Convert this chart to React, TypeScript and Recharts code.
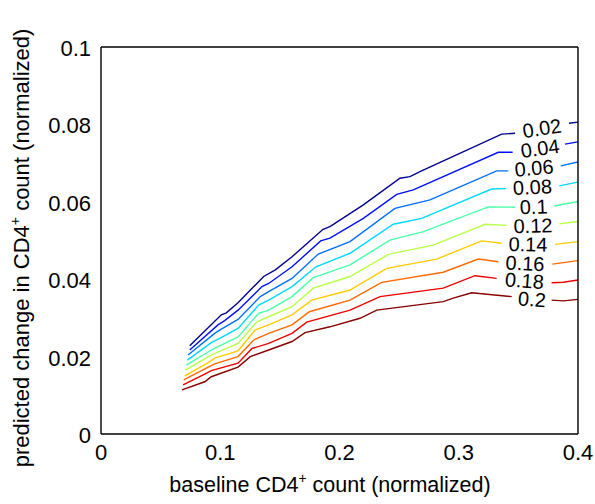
import React from 'react';
import { ComposedChart, Line, XAxis, YAxis, Scatter } from 'recharts';

const FONT = '"Liberation Sans", Arial, Helvetica, sans-serif';

const xTicks = [0, 0.1, 0.2, 0.3, 0.4];
const xTickLabels = ['0', '0.1', '0.2', '0.3', '0.4'];
const yTicks = [0, 0.02, 0.04, 0.06, 0.08, 0.1];
const yTickLabels = ['0', '0.02', '0.04', '0.06', '0.08', '0.1'];

const levels = ['0.02', '0.04', '0.06', '0.08', '0.1', '0.12', '0.14', '0.16', '0.18', '0.2'];

type P = [number, number | null];

const c002: P[] = [[0.0744,0.0228],[0.1009,0.0308],[0.1051,0.0313],[0.1149,0.0339],[0.1364,0.0407],[0.1462,0.0424],[0.1602,0.0458],[0.1862,0.0529],[0.1920,0.0536],[0.2200,0.0592],[0.2507,0.0661],[0.2591,0.0665],[0.2675,0.0678],[0.3360,0.0775],[0.3472,0.0777],[0.37,null],[0.3925,0.0803],[0.4,0.0806]];
const c004: P[] = [[0.0744,0.0217],[0.0981,0.0282],[0.1037,0.0293],[0.1149,0.0320],[0.1350,0.0381],[0.1406,0.0389],[0.1602,0.0432],[0.1842,0.0499],[0.1920,0.0506],[0.2200,0.0557],[0.2480,0.0619],[0.2619,0.0631],[0.3332,0.0728],[0.3452,0.0728],[0.367,null],[0.3891,0.0749],[0.4,0.0755]];
const c006: P[] = [[0.0730,0.0204],[0.0953,0.0260],[0.1009,0.0271],[0.1149,0.0296],[0.1336,0.0355],[0.1406,0.0368],[0.1602,0.0402],[0.1822,0.0465],[0.2088,0.0497],[0.2465,0.0583],[0.2759,0.0605],[0.3318,0.0680],[0.3415,0.0680],[0.363,null],[0.3855,0.0693],[0.4,0.0703]];
const c008: P[] = [[0.0724,0.0191],[0.0925,0.0236],[0.0995,0.0247],[0.1149,0.0273],[0.1322,0.0333],[0.1406,0.0346],[0.1602,0.0381],[0.1803,0.0432],[0.2088,0.0467],[0.2451,0.0542],[0.2689,0.0557],[0.3276,0.0633],[0.3396,0.0634],[0.362,null],[0.3843,0.0641],[0.4,0.0651]];
const c010: P[] = [[0.0715,0.0178],[0.0925,0.0217],[0.0981,0.0226],[0.1149,0.0251],[0.1322,0.0312],[0.1406,0.0320],[0.1602,0.0355],[0.1780,0.0404],[0.2088,0.0437],[0.2423,0.0501],[0.2703,0.0523],[0.3248,0.0587],[0.3472,0.0586],[0.363,null],[0.3799,0.0589],[0.4,0.0601]];
const c012: P[] = [[0.0707,0.0165],[0.0912,0.0202],[0.0967,0.0210],[0.1149,0.0234],[0.1308,0.0290],[0.1406,0.0303],[0.1602,0.0329],[0.1780,0.0377],[0.2088,0.0407],[0.2409,0.0464],[0.2787,0.0488],[0.3220,0.0542],[0.3402,0.0539],[0.362,null],[0.3843,0.0543],[0.4,0.0549]];
const c014: P[] = [[0.0702,0.0150],[0.0897,0.0184],[0.0953,0.0196],[0.1149,0.0215],[0.1294,0.0269],[0.1406,0.0282],[0.1602,0.0308],[0.1767,0.0346],[0.2088,0.0372],[0.2396,0.0428],[0.2815,0.0452],[0.3192,0.0499],[0.3360,0.0493],[0.358,null],[0.3807,0.0490],[0.4,0.0497]];
const c016: P[] = [[0.0694,0.0140],[0.0883,0.0170],[0.0953,0.0181],[0.1149,0.0200],[0.1281,0.0243],[0.1406,0.0260],[0.1602,0.0282],[0.1747,0.0316],[0.2088,0.0346],[0.2354,0.0392],[0.2870,0.0418],[0.3164,0.0452],[0.3332,0.0445],[0.356,null],[0.3785,0.0439],[0.4,0.0448]];
const c018: P[] = [[0.0688,0.0127],[0.0870,0.0155],[0.0925,0.0164],[0.1149,0.0183],[0.1266,0.0221],[0.1406,0.0234],[0.1602,0.0260],[0.1725,0.0289],[0.2088,0.0320],[0.2340,0.0355],[0.2870,0.0377],[0.3136,0.0409],[0.3318,0.0402],[0.355,null],[0.3779,0.0391],[0.3877,0.0392],[0.4,0.0398]];
const c020: P[] = [[0.0679,0.0114],[0.0870,0.0135],[0.0925,0.0148],[0.1149,0.0173],[0.1252,0.0200],[0.1406,0.0217],[0.1602,0.0239],[0.1711,0.0262],[0.1920,0.0277],[0.2172,0.0299],[0.2312,0.0320],[0.2870,0.0342],[0.2954,0.0351],[0.3109,0.0365],[0.3444,0.0355],[0.361,null],[0.3779,0.0346],[0.3877,0.0344],[0.4,0.0348]];

const contours = [c002, c004, c006, c008, c010, c012, c014, c016, c018, c020];

const labelX = [0.3698, 0.3681, 0.3631, 0.3618, 0.3628, 0.3623, 0.3581, 0.3556, 0.3551, 0.3614];
const labelY = [0.0790, 0.0738, 0.0687, 0.0638, 0.0587, 0.0538, 0.0490, 0.0441, 0.0396, 0.0348];

// styles
const colors = ['#000090', '#0010ff', '#0070ff', '#00d8ff', '#48ffa8', '#b8ff48', '#ffcc00', '#ff6a00', '#ee0000', '#880000'];
const labelRotation = [-9, -8, -5, -3, -2, -1.5, 1, 2.4, 4.5, 4.5];

const series = contours.map((pts, i) => ({
  name: levels[i],
  data: pts.map(([x, y]) => ({ x, y })),
}));

const labelData = levels.map((t, i) => ({ x: labelX[i], y: labelY[i], text: t, rot: labelRotation[i] }));

const XTick = (props: any) => {
  const { x, y, payload } = props;
  const idx = xTicks.indexOf(payload.value);
  return (
    <text x={x} y={y} textAnchor="middle" dominantBaseline="central" fontSize={22} fontFamily={FONT} fill="#000">
      {xTickLabels[idx]}
    </text>
  );
};

const YTick = (props: any) => {
  const { x, y, payload } = props;
  let idx = 0;
  yTicks.forEach((t, i) => { if (Math.abs(t - payload.value) < 1e-9) idx = i; });
  return (
    <text x={x} y={y} dy={1.5} textAnchor="end" dominantBaseline="central" fontSize={22} fontFamily={FONT} fill="#000">
      {yTickLabels[idx]}
    </text>
  );
};

const XTitle = () => (
  <text x={330} y={492} textAnchor="middle" fontSize={21.5} fontFamily={FONT} fill="#000">
    baseline CD4<tspan fontSize={14} dy={-9}>+</tspan><tspan dy={9}> count (normalized)</tspan>
  </text>
);

const YTitle = () => (
  <text x={29} y={248} transform="rotate(-90 29 248)" textAnchor="middle" fontSize={22} fontFamily={FONT} fill="#000">
    predicted change in CD4<tspan fontSize={14} dy={-9}>+</tspan><tspan dy={9}> count (normalized)</tspan>
  </text>
);

const LabelShape = (props: any) => {
  const { cx, cy, payload } = props;
  return (
    <text
      x={cx}
      y={cy}
      transform={`rotate(${payload.rot} ${cx} ${cy})`}
      textAnchor="middle"
      dominantBaseline="central"
      fontSize={20}
      fontFamily={FONT}
      fill="#000"
    >
      {payload.text}
    </text>
  );
};

export default function App() {
  return (
    <div style={{ position: 'absolute', left: 0, top: 0, width: 595, height: 504, background: '#fff' }}>
      <ComposedChart width={595} height={504} margin={{ top: 47, right: 17, left: 0, bottom: 0 }}>
        <XAxis
          xAxisId="main"
          dataKey="x"
          type="number"
          domain={[0, 0.4]}
          allowDataOverflow
          ticks={xTicks}
          tick={<XTick />}
          tickLine={false}
          tickSize={0}
          tickMargin={18}
          height={70}
          axisLine={{ stroke: '#000', strokeWidth: 1.4 }}
          label={<XTitle />}
        />
        <XAxis
          xAxisId="inB"
          orientation="bottom"
          mirror
          type="number"
          domain={[0, 0.4]}
          allowDataOverflow
          ticks={xTicks}
          tick={false}
          tickSize={5}
          axisLine={false}
          tickLine={{ stroke: '#000', strokeWidth: 1 }}
        />
        <XAxis
          xAxisId="inT"
          orientation="top"
          mirror
          type="number"
          domain={[0, 0.4]}
          allowDataOverflow
          ticks={xTicks}
          tick={false}
          tickSize={5}
          axisLine={{ stroke: '#000', strokeWidth: 1.4 }}
          tickLine={{ stroke: '#000', strokeWidth: 1 }}
        />
        <YAxis
          yAxisId="main"
          type="number"
          domain={[0, 0.1]}
          allowDataOverflow
          ticks={yTicks}
          tick={<YTick />}
          tickLine={false}
          tickSize={0}
          tickMargin={10}
          width={101}
          axisLine={{ stroke: '#000', strokeWidth: 1.4 }}
          label={<YTitle />}
        />
        <YAxis
          yAxisId="inL"
          orientation="left"
          mirror
          type="number"
          domain={[0, 0.1]}
          allowDataOverflow
          ticks={yTicks}
          tick={false}
          tickSize={5}
          axisLine={false}
          tickLine={{ stroke: '#000', strokeWidth: 1 }}
        />
        <YAxis
          yAxisId="inR"
          orientation="right"
          mirror
          type="number"
          domain={[0, 0.1]}
          allowDataOverflow
          ticks={yTicks}
          tick={false}
          tickSize={5}
          axisLine={{ stroke: '#000', strokeWidth: 1.4 }}
          tickLine={{ stroke: '#000', strokeWidth: 1 }}
        />
        {series.map((s, i) => (
          <Line
            key={s.name}
            xAxisId="main"
            yAxisId="main"
            data={s.data}
            dataKey="y"
            type="linear"
            stroke={colors[i]}
            strokeWidth={1.4}
            dot={false}
            activeDot={false}
            connectNulls={false}
            isAnimationActive={false}
          />
        ))}
        <Scatter
          xAxisId="main"
          yAxisId="main"
          data={labelData}
          dataKey="y"
          shape={<LabelShape />}
          isAnimationActive={false}
        />
      </ComposedChart>
    </div>
  );
}
